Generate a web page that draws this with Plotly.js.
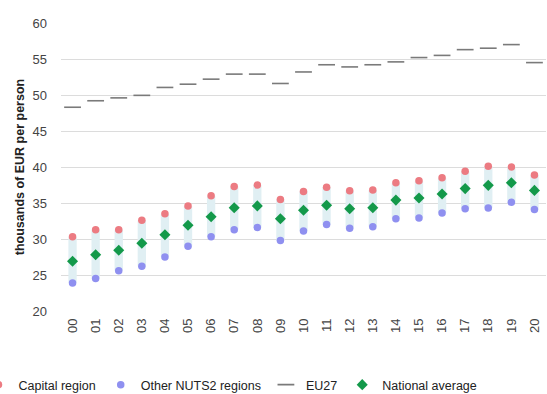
<!DOCTYPE html>
<html>
<head>
<meta charset="utf-8">
<script src="https://cdn.plot.ly/plotly-3.0.1.min.js"></script>
<style>html,body{margin:0;padding:0;background:#fff;}#chart{width:547px;height:394px;}</style>
</head>
<body>
<div id="chart"></div>
<script>
const years = ["00","01","02","03","04","05","06","07","08","09","10","11","12","13","14","15","16","17","18","19","20"];
const capital = [30.3,31.3,31.3,32.6,33.5,34.6,36.0,37.3,37.5,35.5,36.6,37.2,36.7,36.8,37.8,38.1,38.5,39.4,40.1,40.0,38.9];
const otherNuts2 = [23.9,24.5,25.6,26.2,27.5,29.0,30.3,31.3,31.6,29.8,31.1,32.0,31.5,31.7,32.8,32.9,33.6,34.2,34.3,35.1,34.1];
const eu27 = [48.3,49.2,49.6,49.95,51.05,51.5,52.2,52.9,52.9,51.6,53.2,54.2,53.9,54.2,54.6,55.2,55.5,56.3,56.5,57.0,54.5];
const national = [26.9,27.8,28.45,29.4,30.6,31.9,33.1,34.35,34.6,32.8,34.0,34.7,34.2,34.35,35.4,35.7,36.25,37.0,37.45,37.8,36.75];
const yTicks = [20,25,30,35,40,45,50,55,60];

const font = "Liberation Sans, Arial, sans-serif";

const traces = [
  {
    type: "bar", x: years, y: capital.map((c,i)=>c-otherNuts2[i]), base: otherNuts2,
    width: 0.36, marker: {color: "#e0eff3"}, showlegend: false, hoverinfo: "skip"
  },
  {
    type: "scatter", mode: "markers", name: "Capital region", x: years, y: capital,
    marker: {symbol: "circle", size: 7.5, color: "#ec7b82"}
  },
  {
    type: "scatter", mode: "markers", name: "Other NUTS2 regions", x: years, y: otherNuts2,
    marker: {symbol: "circle", size: 7.5, color: "#8f90f0"}
  },
  {
    type: "scatter", mode: "markers", name: "EU27", x: years, y: eu27,
    marker: {symbol: "line-ew", size: 12, color: "#7a7a7a", line: {color: "#7a7a7a", width: 1.6}}
  },
  {
    type: "scatter", mode: "markers", name: "National average", x: years, y: national,
    marker: {symbol: "diamond", size: 8.5, color: "#13994a"}
  }
];

const layout = {
  width: 547, height: 394,
  margin: {l: 61, r: 1, t: 23, b: 83, autoexpand: false},
  paper_bgcolor: "#fff", plot_bgcolor: "#fff",
  font: {family: font, color: "#444", size: 13},
  showlegend: true,
  barmode: "overlay",
  xaxis: {
    type: "category", range: [-0.5, 20.5],
    tickangle: -90, tickfont: {size: 13, color: "#444"},
    showgrid: false, zeroline: false, showline: false, ticks: "",
    ticklabelstandoff: 4, fixedrange: true
  },
  yaxis: {
    range: [20, 60], tickvals: yTicks, ticktext: yTicks.map(String),
    showgrid: true, gridcolor: "#dcdcdc", gridwidth: 1, zeroline: false, showline: false,
    ticks: "", ticklabelstandoff: 13, tickfont: {size: 13, color: "#444"},
    title: {text: "thousands of EUR per person", font: {size: 12.5, color: "#222", weight: "bold"}, standoff: 5},
    fixedrange: true
  },
  legend: {
    orientation: "h", x: -0.17, xanchor: "left", y: -0.257, yanchor: "middle",
    font: {size: 12.5, color: "#222"}, itemwidth: 30, tracegroupgap: 0,
    bgcolor: "rgba(0,0,0,0)"
  }
};

Plotly.newPlot("chart", traces, layout, {displayModeBar: false, staticPlot: true});
</script>
</body>
</html>
